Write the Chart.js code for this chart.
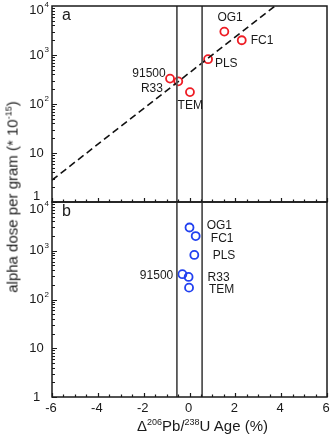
<!DOCTYPE html>
<html>
<head>
<meta charset="utf-8">
<script src="https://cdn.jsdelivr.net/npm/chart.js@4.4.1/dist/chart.umd.min.js"></script>
<style>
  html, body { margin: 0; padding: 0; background: #fff; }
  #wrap { position: relative; width: 331px; height: 436px; overflow: hidden;
          font-family: "Liberation Sans", Arial, sans-serif; color: #1a1a1a; }
  #panelA { position: absolute; left: 0; top: 0; }
  #panelB { position: absolute; left: 0; top: 201px; }
  .ytitle { position: absolute; left: 12px; top: 197px; white-space: nowrap; font-size: 15px;
            transform: translate(-50%, -50%) rotate(-90deg); }
  .xtitle { position: absolute; left: 137px; top: 417px; white-space: nowrap; font-size: 15px; }
  .sup { position: relative; top: -6px; font-size: 9px; }
</style>
</head>
<body>
<div id="wrap">
  <canvas id="panelA" width="331" height="203"></canvas>
  <canvas id="panelB" width="331" height="235"></canvas>
  <div class="ytitle">alpha dose per gram (* 10<span class="sup">-15</span>)</div>
  <div class="xtitle">Δ<span class="sup">206</span>Pb/<span class="sup">238</span>U Age (%)</div>
</div>
<script>
// samples, alpha dose (*1e-15 per gram) and age offsets (%)
const sampleNames = ['OG1', 'FC1', 'PLS', '91500', 'R33', 'TEM'];
const doseValues  = [3000, 2000, 820, 330, 290, 175];
const deltaA      = [1.52, 2.28, 0.81, -0.85, -0.49, 0.02];
const deltaB      = [0.0, 0.27, 0.21, -0.31, -0.04, -0.02];

// where the sample names sit (data coords)
const labelXA = [1.77, 2.67, 1.11, -1.04, -1.16, -0.52];
const labelYA = [5660, 2000, 676, 422, 209, 94];
const labelAlignA = ['center', 'left', 'left', 'right', 'right', 'left'];
const labelXB = [0.75, 0.93, 1.01, -0.71, 0.79, 0.85];
const labelYB = [3250, 1790, 800, 315, 277, 157];
const labelAlignB = ['left', 'left', 'left', 'right', 'left', 'left'];

// regression line in panel a, and the +/- reference lines
const fitX = [-6, 3.73];
const fitY = [2.8, 10000];
const refLineX = [-0.55, 0.55];

const xMin = -6, xMax = 6;
const xTicks = [-6, -4, -2, 0, 2, 4, 6];
const yTicks = [1, 10, 100, 1000, 10000];
const supDigits = { 1: '', 2: '2', 3: '3', 4: '4' };

const FONT = '"Liberation Sans", Arial, sans-serif';
const INK = '#1a1a1a';

const axesPlugin = {
  id: 'axesPlugin',
  afterDatasetsDraw(chart, args, opts) {
    const { ctx, chartArea: a } = chart;
    const xs = chart.scales.x, ys = chart.scales.y;
    ctx.save();
    ctx.strokeStyle = INK;
    ctx.lineWidth = 1.5;
    ctx.strokeRect(a.left, a.top, a.right - a.left, a.bottom - a.top);

    // inward ticks: y (log, minor 2..9) and x (every 0.5)
    ctx.lineWidth = 1.2;
    ctx.beginPath();
    for (let d = 1; d < 10000; d *= 10) {
      for (let k = 1; k <= 9; k++) {
        const y = Math.round(ys.getPixelForValue(d * k)) + 0.5;
        const len = k === 1 ? 5 : 3;
        ctx.moveTo(a.left, y); ctx.lineTo(a.left + len, y);
      }
    }
    for (let v = xMin; v <= xMax; v += 0.5) {
      const x = Math.round(xs.getPixelForValue(v)) + 0.5;
      const len = v % 2 === 0 ? 4 : 2.5;
      ctx.moveTo(x, a.bottom); ctx.lineTo(x, a.bottom - len);
    }
    ctx.stroke();

    ctx.fillStyle = INK;
    ctx.textBaseline = 'middle';

    // x tick labels (bottom panel only)
    if (opts.xLabels) {
      ctx.font = '13px ' + FONT;
      ctx.textAlign = 'center';
      xTicks.forEach(v => ctx.fillText(String(v), xs.getPixelForValue(v) - 1, a.bottom + 11));
    }

    // y tick labels with superscript exponents
    yTicks.forEach(v => {
      const exp = Math.round(Math.log10(v));
      const y = ys.getPixelForValue(v) + (opts.shift[v] || 0);
      const base = exp === 0 ? '1' : '10';
      ctx.font = '13px ' + FONT;
      ctx.textAlign = 'center';
      ctx.fillText(base, a.left - 15.5, y);
      if (exp > 1) {
        ctx.font = '8px ' + FONT;
        ctx.textAlign = 'left';
        ctx.fillText(supDigits[exp], a.left - 7.5, y - 5);
      }
    });

    // panel letter
    ctx.font = '16px ' + FONT;
    ctx.textAlign = 'left';
    ctx.fillText(opts.letter, a.left + 10, a.top + 10);

    // sample names
    ctx.font = '12px ' + FONT;
    sampleNames.forEach((name, i) => {
      ctx.textAlign = opts.align[i];
      ctx.fillText(name, xs.getPixelForValue(opts.lx[i]), ys.getPixelForValue(opts.ly[i]));
    });
    ctx.restore();
  }
};

function makePanel(id, deltas, color, withFit, labelOpts, pad) {
  const datasets = refLineX.map(x => ({
    type: 'line',
    data: [{ x: x, y: 1 }, { x: x, y: 10000 }],
    borderColor: '#555', borderWidth: 1.8, pointRadius: 0,
  }));
  if (withFit) {
    datasets.push({
      type: 'line',
      data: fitX.map((x, i) => ({ x: x, y: fitY[i] })),
      borderColor: '#111', borderWidth: 1.6, borderDash: [7, 4], pointRadius: 0,
    });
  }
  datasets.push({
    type: 'scatter',
    data: deltas.map((x, i) => ({ x: x, y: doseValues[i] })),
    borderColor: color, backgroundColor: 'rgba(0,0,0,0)',
    pointRadius: 4, pointBorderWidth: 1.8, pointHoverRadius: 4,
  });

  return new Chart(document.getElementById(id), {
    type: 'scatter',
    data: { datasets },
    options: {
      responsive: false,
      animation: false,
      events: [],
      layout: { padding: pad, autoPadding: false },
      plugins: { legend: { display: false }, tooltip: { enabled: false }, axesPlugin: labelOpts },
      scales: {
        x: { type: 'linear', min: xMin, max: xMax, display: false },
        y: { type: 'logarithmic', min: 1, max: 10000, display: false },
      },
    },
    plugins: [axesPlugin],
  });
}

makePanel('panelA', deltaA, '#ee1c24', true,
  { letter: 'a', lx: labelXA, ly: labelYA, align: labelAlignA, shift: { 10000: 4, 1: -6 }, xLabels: false },
  { left: 52, right: 4, top: 6, bottom: 1 });
makePanel('panelB', deltaB, '#2140f0', false,
  { letter: 'b', lx: labelXB, ly: labelYB, align: labelAlignB, shift: { 10000: 7 }, xLabels: true },
  { left: 52, right: 4, top: 1, bottom: 39 });
</script>
</body>
</html>
